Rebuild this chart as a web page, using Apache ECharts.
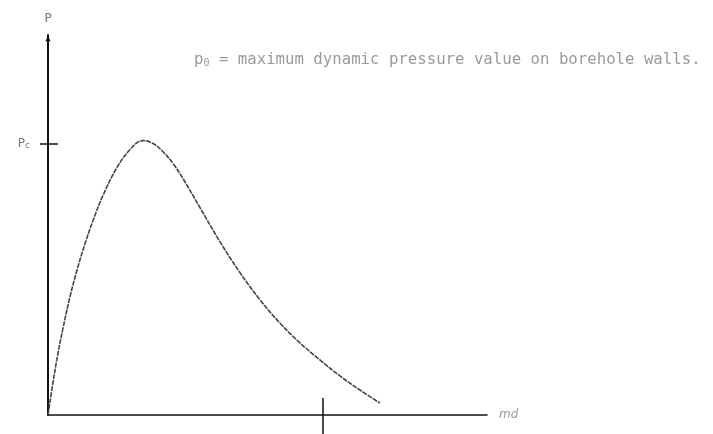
<!DOCTYPE html>
<html>
<head>
<meta charset="utf-8">
<script src="https://cdn.jsdelivr.net/npm/echarts@6/dist/echarts.min.js"></script>
<style>
  html, body { margin: 0; padding: 0; background: #fff; }
  #main { width: 713px; height: 434px; }
</style>
</head>
<body>
<div id="main"></div>
<script>
// distance (md) and pressure, Pc = 1
var xs = [0, 0.018, 0.036, 0.055, 0.080, 0.106, 0.135, 0.164, 0.200, 0.251, 0.299, 0.346, 0.383, 0.419,
          0.456, 0.492, 0.554, 0.627, 0.700, 0.773, 0.845, 0.918, 0.991, 1.064, 1.137, 1.210];
var ps = [0, 0.118, 0.225, 0.321, 0.435, 0.535, 0.631, 0.716, 0.808, 0.911, 0.978, 1.011, 1.000, 0.970,
          0.926, 0.871, 0.764, 0.638, 0.524, 0.424, 0.339, 0.266, 0.203, 0.144, 0.092, 0.044];
var pcValue = [1];
var xTickValue = [1];
var note = 'maximum dynamic pressure value on borehole walls.';

var data = [];
for (var i = 0; i < xs.length; i++) {
  data.push([xs[i], ps[i]]);
}

var chart = echarts.init(document.getElementById('main'));
var option = {
  backgroundColor: '#fff',
  animation: false,
  title: {
    left: 189, top: 47,
    text: '{p|p}{s|0}{p| = ' + note + '}',
    textStyle: {
      fontWeight: 'normal',
      rich: {
        p: { fontFamily: 'DejaVu Sans Mono', fontSize: 15.7, fontWeight: 'normal', color: '#9a9a9a' },
        s: { fontFamily: 'DejaVu Sans Mono', fontSize: 10, fontWeight: 'normal', color: '#9a9a9a', verticalAlign: 'bottom', padding: [6, 0, 0, 0] }
      }
    }
  },
  grid: { left: 48, right: 226, top: 35, bottom: 19 },
  xAxis: [{
    type: 'value', min: 0, max: 1.6,
    name: 'md', nameLocation: 'end', nameGap: 12,
    nameTextStyle: { color: '#999', fontSize: 12, fontStyle: 'italic', fontFamily: 'DejaVu Sans' },
    axisLine: { onZero: false, lineStyle: { color: '#111', width: 1.5 } },
    axisTick: { show: true, customValues: xTickValue, length: 22, lineStyle: { color: '#111', width: 1.5 } },
    axisLabel: { show: false },
    splitLine: { show: false }
  }, {
    type: 'value', min: 0, max: 1.6, position: 'bottom',
    axisLine: { show: false },
    axisTick: { show: true, inside: true, customValues: xTickValue, length: 17, lineStyle: { color: '#111', width: 1.5 } },
    axisLabel: { show: false },
    splitLine: { show: false }
  }],
  yAxis: [{
    type: 'value', min: 0, max: 1.4,
    name: 'P', nameLocation: 'end', nameGap: 10,
    nameTextStyle: { color: '#777', fontSize: 12, fontFamily: 'DejaVu Sans', align: 'center' },
    axisLine: { onZero: false, symbol: ['none', 'arrow'], symbolSize: [4, 7], lineStyle: { color: '#111', width: 2 } },
    axisTick: { show: true, customValues: pcValue, length: 8, lineStyle: { color: '#111', width: 1.5 } },
    axisLabel: {
      customValues: pcValue, margin: 18,
      formatter: function () { return '{p|P}{s|c}'; },
      rich: {
        p: { fontFamily: 'DejaVu Sans', fontSize: 12, color: '#777' },
        s: { fontFamily: 'DejaVu Sans', fontSize: 9, color: '#777', verticalAlign: 'bottom', padding: [4, 0, 0, 0] }
      }
    },
    splitLine: { show: false }
  }, {
    type: 'value', min: 0, max: 1.4, position: 'left',
    axisLine: { show: false },
    axisTick: { show: true, inside: true, customValues: pcValue, length: 10, lineStyle: { color: '#111', width: 1.5 } },
    axisLabel: { show: false },
    splitLine: { show: false }
  }],
  series: [{
    type: 'line',
    data: data,
    smooth: 0.4,
    showSymbol: false,
    lineStyle: { color: '#444', width: 1.6, type: [5, 1] }
  }]
};
chart.setOption(option);
</script>
</body>
</html>
